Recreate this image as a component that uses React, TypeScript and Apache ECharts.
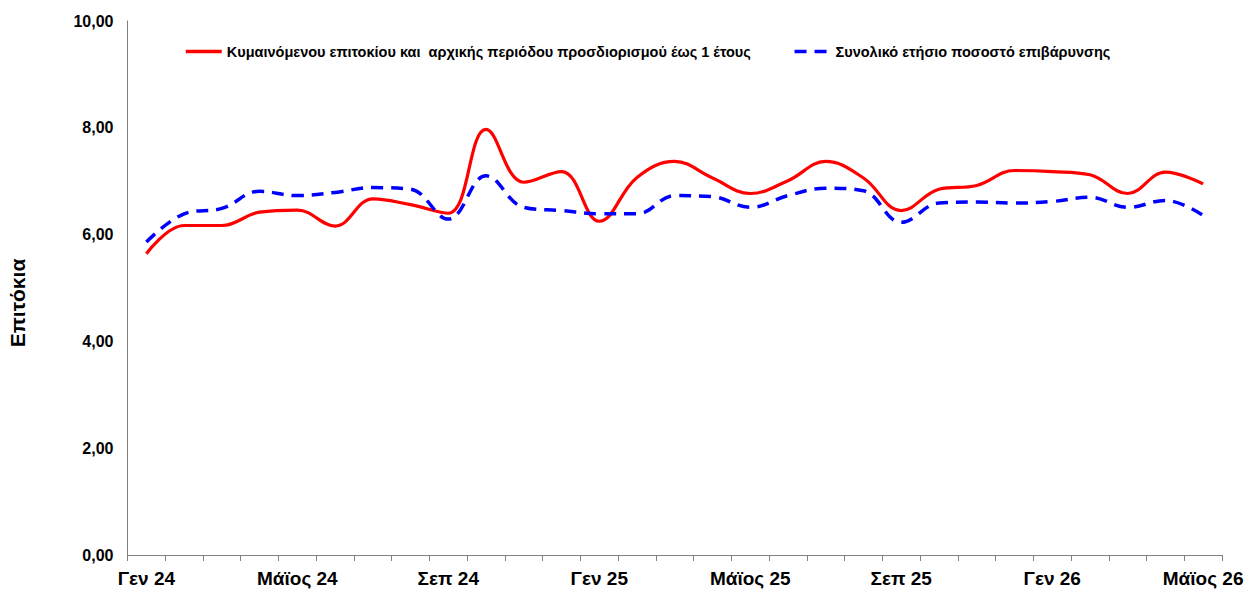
import React, { useEffect, useRef } from "react";
import * as echarts from "echarts";

const months = [
  "Γεν 24", "Φεβ 24", "Μαρ 24", "Απρ 24", "Μάϊος 24", "Ιουν 24", "Ιουλ 24", "Αυγ 24",
  "Σεπ 24", "Οκτ 24", "Νοε 24", "Δεκ 24", "Γεν 25", "Φεβ 25", "Μαρ 25", "Απρ 25",
  "Μάϊος 25", "Ιουν 25", "Ιουλ 25", "Αυγ 25", "Σεπ 25", "Οκτ 25", "Νοε 25", "Δεκ 25",
  "Γεν 26", "Φεβ 26", "Μαρ 26", "Απρ 26", "Μάϊος 26",
];

const floatingRate = [
  5.64, 6.17, 6.17, 6.42, 6.46, 6.16, 6.67, 6.56, 6.40, 7.97, 6.98, 7.18, 6.25, 7.07, 7.37,
  7.06, 6.77, 7.01, 7.37, 7.06, 6.45, 6.85, 6.92, 7.20, 7.18, 7.12, 6.77, 7.17, 6.95,
];

const totalCharge = [
  5.86, 6.39, 6.49, 6.81, 6.73, 6.79, 6.88, 6.85, 6.29, 7.10, 6.51, 6.45, 6.39, 6.39, 6.73,
  6.71, 6.51, 6.73, 6.87, 6.82, 6.23, 6.59, 6.61, 6.59, 6.62, 6.70, 6.51, 6.64, 6.36,
];

const seriesNames = [
  "Κυμαινόμενου επιτοκίου και  αρχικής περιόδου προσδιορισμού έως 1 έτους",
  "Συνολικό ετήσιο ποσοστό επιβάρυνσης",
];

const yAxisTitle = "Επιτόκια";

const FONT = "'Liberation Sans', Arial, sans-serif";

export default function App() {
  const ref = useRef<HTMLDivElement>(null);

  useEffect(() => {
    if (!ref.current) return;
    const chart = echarts.init(ref.current, null, { renderer: "svg" });
    chart.setOption({
      animation: false,
      backgroundColor: "#ffffff",
      grid: { left: 127.5, right: 25, top: 21, bottom: 35, containLabel: false },
      legend: {
        left: 184,
        top: 44,
        padding: 0,
        itemWidth: 36,
        itemHeight: 14,
        itemGap: 42,
        data: seriesNames,
        itemStyle: { opacity: 0 },
        lineStyle: { width: 3.5 },
        textStyle: { fontFamily: FONT, fontWeight: "bold", fontSize: 14.5, color: "#000" },
      },
      graphic: [
        {
          type: "text",
          x: 17,
          y: 303,
          rotation: Math.PI / 2,
          style: {
            text: yAxisTitle,
            fontFamily: FONT,
            fontWeight: "bold",
            fontSize: 21,
            fill: "#000",
            textAlign: "center",
            textVerticalAlign: "middle",
          },
        },
      ],
      xAxis: {
        type: "category",
        data: months,
        boundaryGap: true,
        axisLine: { lineStyle: { color: "#808080", width: 1 } },
        axisTick: { show: true, interval: 0, length: 6, lineStyle: { color: "#808080" } },
        axisLabel: {
          interval: 3,
          margin: 14,
          fontFamily: FONT,
          fontWeight: "bold",
          fontSize: 19,
          color: "#000",
        },
        splitLine: { show: false },
      },
      yAxis: {
        type: "value",
        min: 0,
        max: 10,
        interval: 2,
        axisLine: { show: true, lineStyle: { color: "#808080", width: 1 } },
        axisTick: { show: false },
        splitLine: { show: false },
        axisLabel: {
          margin: 14,
          fontFamily: FONT,
          fontWeight: "bold",
          fontSize: 16,
          color: "#000",
          formatter: (v: number) => v.toFixed(2).replace(".", ","),
        },
      },
      series: [
        {
          name: seriesNames[0],
          type: "line",
          data: floatingRate,
          smooth: 0.4,
          symbol: "none",
          lineStyle: { color: "#ff0000", width: 3.2 },
          itemStyle: { color: "#ff0000" },
        },
        {
          name: seriesNames[1],
          type: "line",
          data: totalCharge,
          smooth: 0.4,
          symbol: "none",
          lineStyle: { color: "#0000ff", width: 3.5, type: [12, 8] },
          itemStyle: { color: "#0000ff" },
        },
      ],
    });
    return () => chart.dispose();
  }, []);

  return (
    <div
      ref={ref}
      style={{ position: "fixed", left: 0, top: 0, width: 1247, height: 590, background: "#fff" }}
    />
  );
}
